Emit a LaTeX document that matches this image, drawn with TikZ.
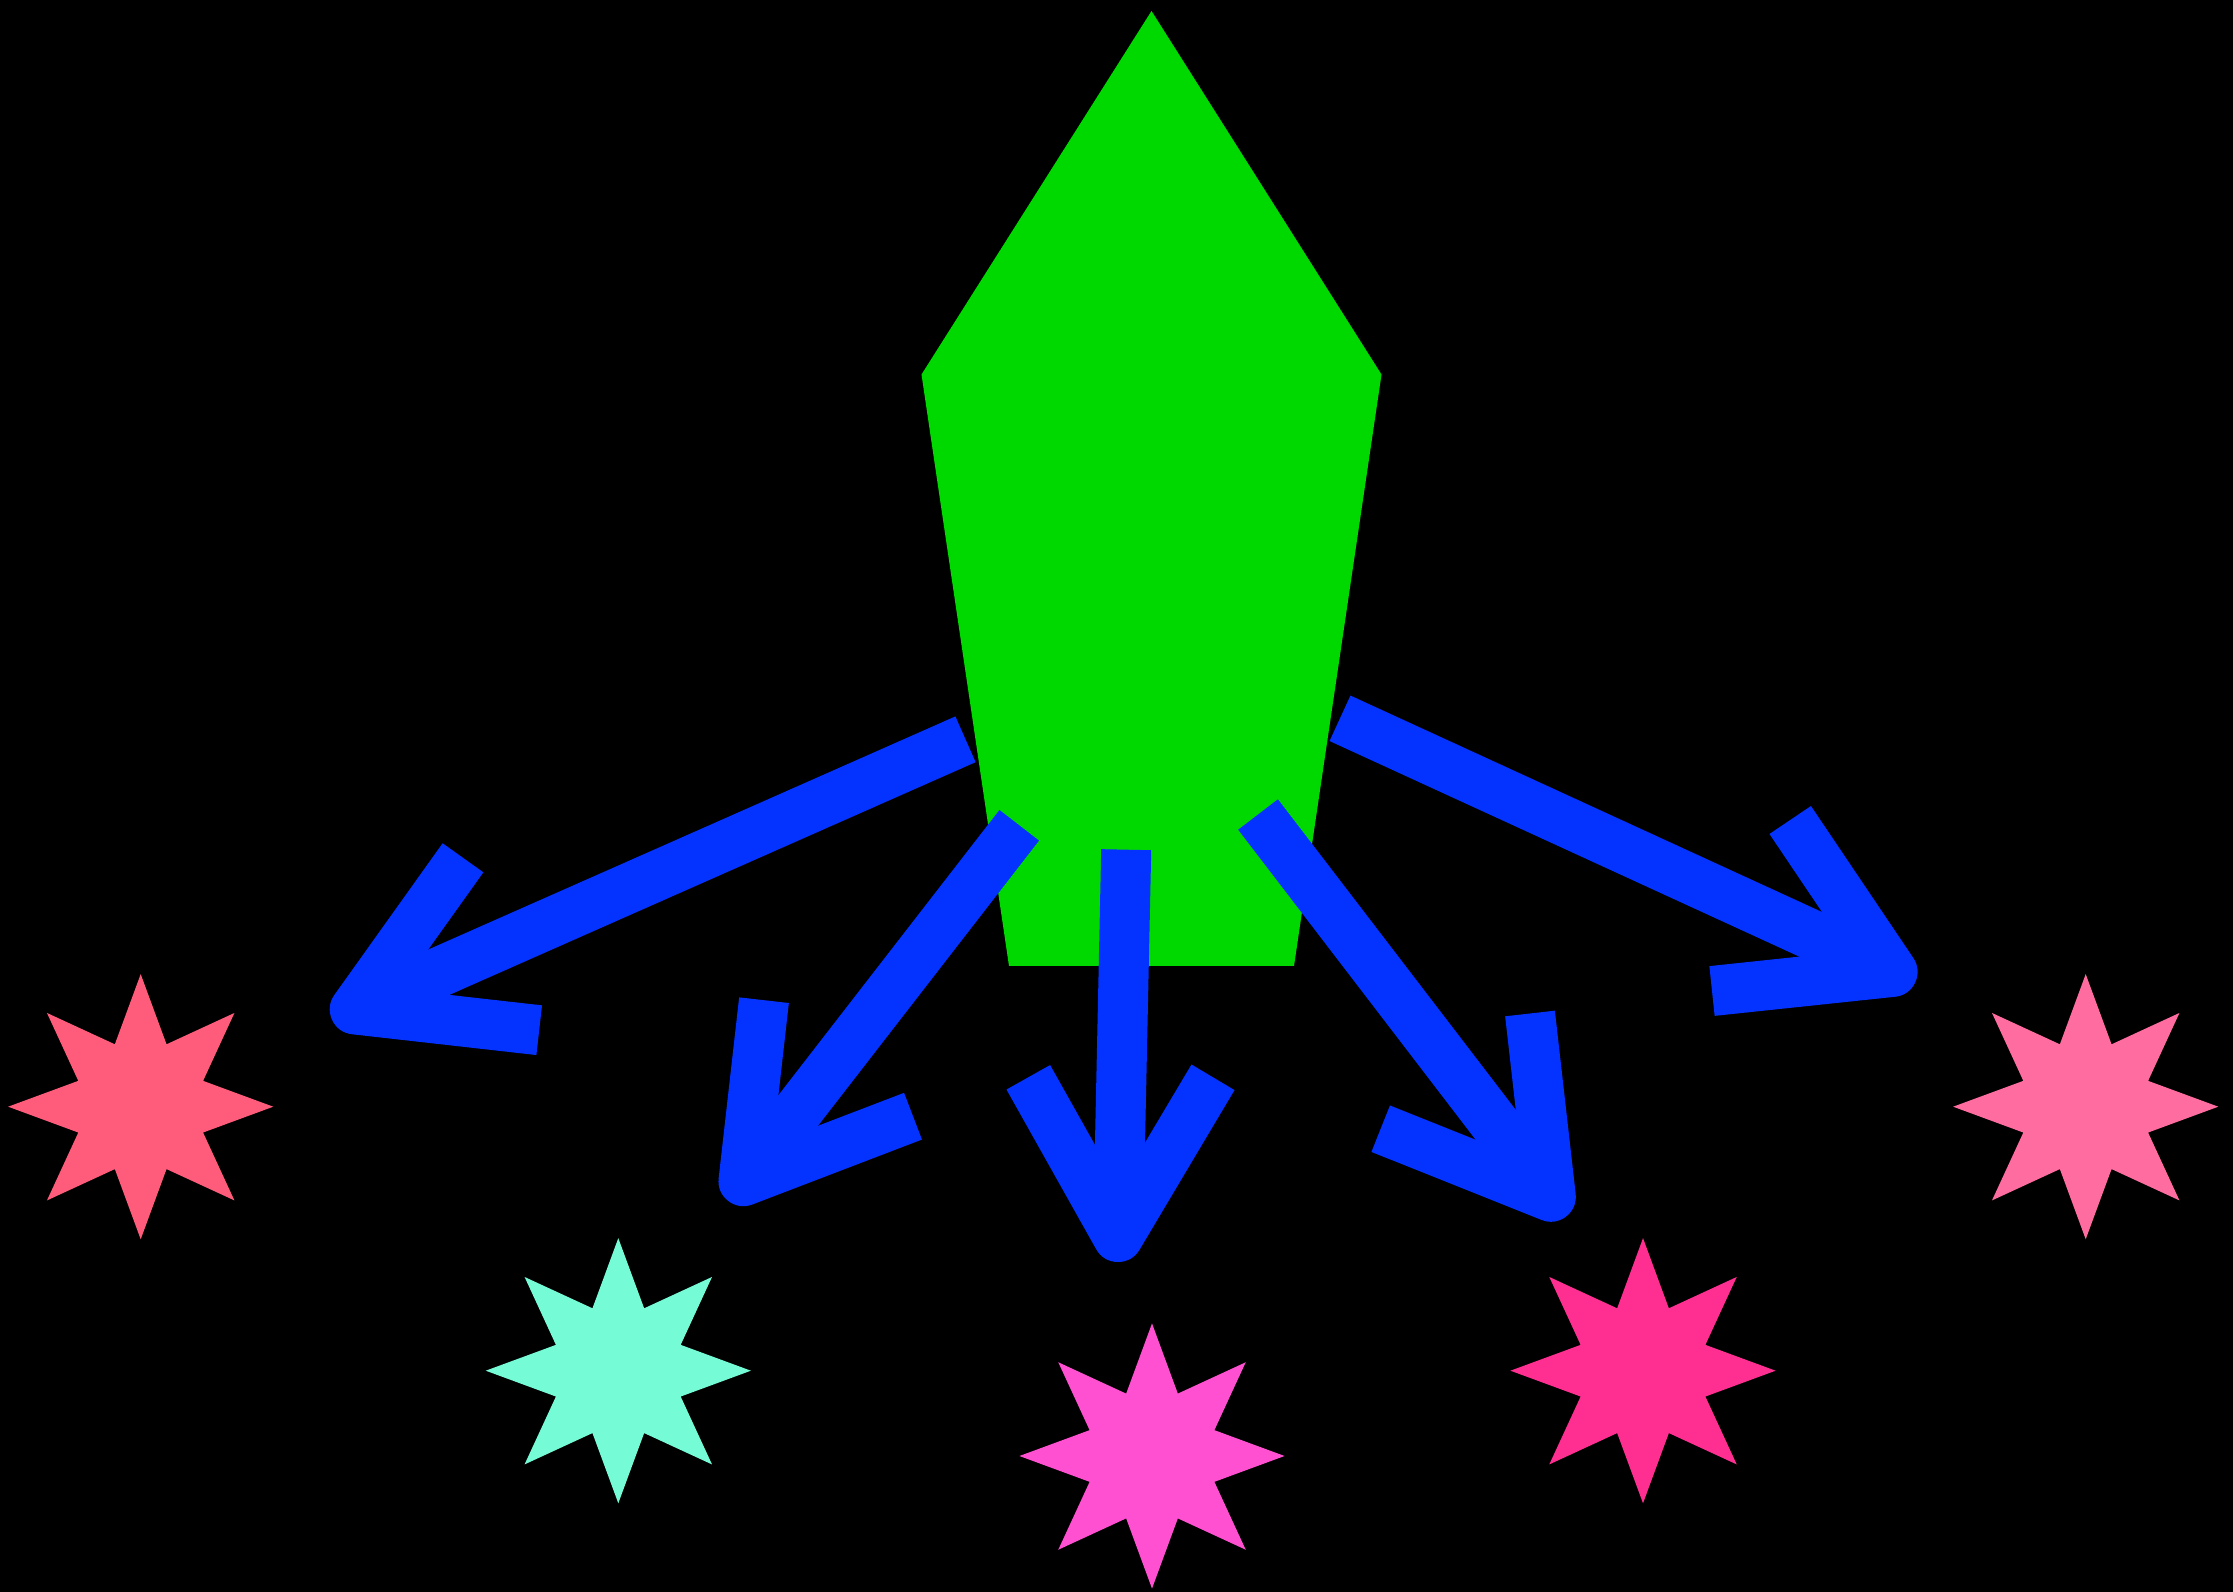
\documentclass[tikz,border=0pt]{standalone}
\usetikzlibrary{shapes.geometric}
\definecolor{leafgreen}{RGB}{0,217,0}
\definecolor{arrowblue}{RGB}{4,51,255}
\definecolor{starA}{RGB}{255,92,124}
\definecolor{starB}{RGB}{117,251,214}
\definecolor{starC}{RGB}{255,80,210}
\definecolor{starD}{RGB}{255,47,146}
\definecolor{starE}{RGB}{255,108,160}
\begin{document}
\begin{tikzpicture}[x=0.01cm,y=-0.01cm,
  arrowline/.style={draw=arrowblue, line width=0.5cm, line cap=butt, line join=round},
  burst/.style={star, star points=8, star point ratio=1.963, minimum size=2.65cm, inner sep=0pt, draw=none, fill=#1}]
\fill[black] (0,0) rectangle (2233,1592);
\useasboundingbox (0,0) rectangle (2233,1592);
% pentagon
\coordinate (pTop) at (1151.5,11);
\coordinate (pR) at (1381.5,374.5);
\coordinate (pBR) at (1294,966);
\coordinate (pBL) at (1009,966);
\coordinate (pL) at (921.5,374.5);
\fill[leafgreen] (pTop) -- (pR) -- (pBR) -- (pBL) -- (pL) -- cycle;
% stars
\node[burst=starA] (s1) at (140.7,1106.7) {};
\node[burst=starB] (s2) at (618.3,1370.7) {};
\node[burst=starC] (s3) at (1152,1456) {};
\node[burst=starD] (s4) at (1643,1370.7) {};
\node[burst=starE] (s5) at (2085.7,1106.7) {};
% arrow coordinates
\coordinate (a1t) at (965.5,739.3);
\coordinate (a1p) at (354.8,1009.4);
\coordinate (a1a) at (463,857.8);
\coordinate (a1b) at (539.2,1030.2);
\coordinate (a2t) at (1019.2,825.3);
\coordinate (a2p) at (743.5,1181.1);
\coordinate (a2a) at (764,1000.2);
\coordinate (a2b) at (913,1116.2);
\coordinate (a3t) at (1126.2,849.7);
\coordinate (a3p) at (1118,1237);
\coordinate (a3a) at (1028.3,1077.3);
\coordinate (a3b) at (1213,1077.3);
\coordinate (a4t) at (1258,814.5);
\coordinate (a4p) at (1550.8,1196.7);
\coordinate (a4a) at (1530,1013.5);
\coordinate (a4b) at (1380.7,1128.7);
\coordinate (a5t) at (1340,718.3);
\coordinate (a5p) at (1892.5,971.9);
\coordinate (a5a) at (1790.2,820);
\coordinate (a5b) at (1712,991);
\foreach \i in {1,...,5}{
  \draw[arrowline] (a\i t) -- (a\i p);
  \draw[arrowline] (a\i a) -- (a\i p) -- (a\i b);
}
\end{tikzpicture}
\end{document}
